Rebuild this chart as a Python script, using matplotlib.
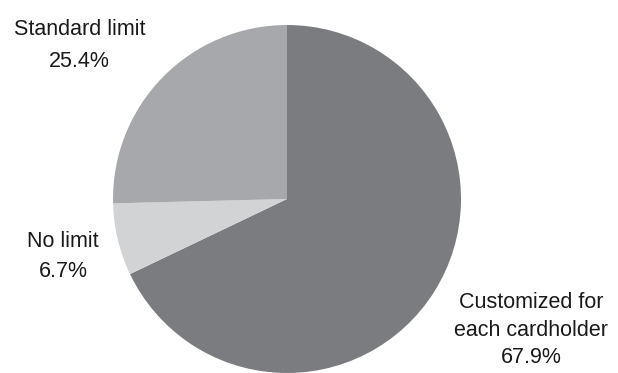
import matplotlib
matplotlib.use("Agg")
import matplotlib.pyplot as plt

labels = ["Customized for\neach cardholder", "No limit", "Standard limit"]
shares = [67.9, 6.7, 25.4]
colors = ["#7b7c80", "#d2d3d5", "#a7a8ab"]

# label anchors: centre x / last-line baseline y, in axes data units (radius = 1)
label_pos = [(1.402, -0.943), (-1.287, -0.447), (-1.193, 0.760)]
label_spacing = [1.41, 1.57, 1.70]

plt.rcParams["font.family"] = ["Liberation Sans", "DejaVu Sans"]

fig = plt.figure(figsize=(6.18, 3.73), dpi=100)
ax = fig.add_axes([113 / 618, 0, 348 / 618, 348 / 373])

ax.pie(shares, colors=colors, startangle=90, counterclock=False,
       radius=1, wedgeprops=dict(linewidth=0))

for lab, val, (x, y), ls in zip(labels, shares, label_pos, label_spacing):
    ax.text(x, y, f"{lab}\n{val:.1f}%", ha="center", va="baseline",
            fontsize=15.5, linespacing=ls, color="#1a1a1a", clip_on=False)

ax.set_xlim(-1, 1)
ax.set_ylim(-1, 1)
ax.set_aspect("equal")
ax.axis("off")

fig.savefig("out.png", dpi=100)
